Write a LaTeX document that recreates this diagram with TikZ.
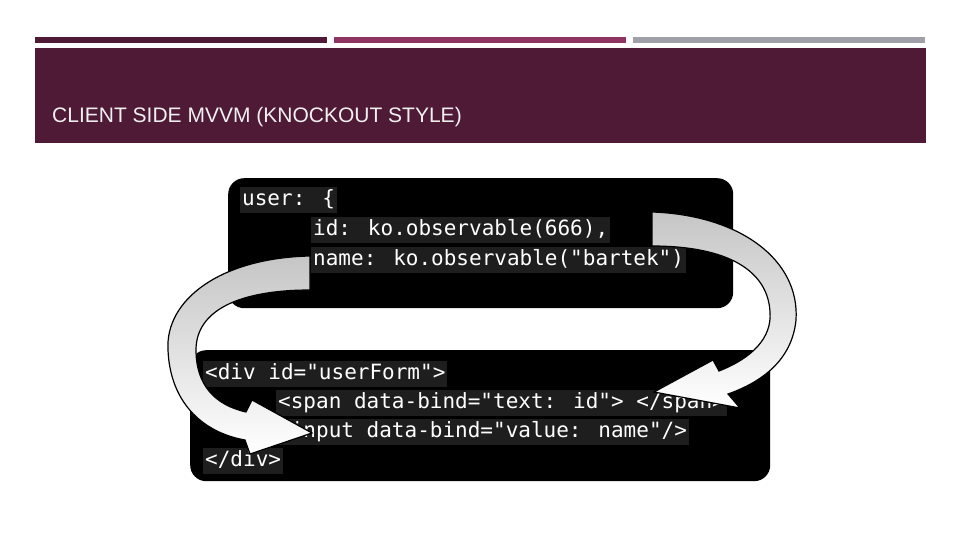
\documentclass[tikz,border=0pt]{standalone}
\usepackage{fontspec}
\setmainfont{Liberation Sans}
\newfontfamily\codefont{DejaVu Sans Mono}
\begin{document}
\begin{tikzpicture}[x=1pt,y=-1pt,
  code/.style={anchor=west,fill=codebg,text=white,font=\codefont\fontsize{21}{24}\selectfont,inner sep=2pt,text height=16pt,text depth=6pt},
  box/.style={fill=black,rounded corners=16pt},
  barrow/.style={draw=black,line width=1.2pt,top color=gray!45,bottom color=white,line join=miter}]
\definecolor{codebg}{HTML}{1E1E1E}
\definecolor{hdr}{HTML}{4F1A36}
\definecolor{barA}{HTML}{4E1A35}
\definecolor{barB}{HTML}{8E3563}
\definecolor{barC}{HTML}{A0A0A8}
\useasboundingbox (0,0) rectangle (960,540);
\fill[white] (0,0) rectangle (960,540);
\fill[barA] (35,37) rectangle (327,43);
\fill[barB] (334,37) rectangle (626,43);
\fill[barC] (633,37) rectangle (925,43);
\fill[hdr] (35,48) rectangle (926,143);
\node[anchor=west,text=white!94!black,font=\fontsize{21}{24}\selectfont,inner sep=0pt] (title) at (52,117) {CLIENT SIDE MVVM (KNOCKOUT STYLE)};
\node[box,minimum width=505pt,minimum height=130pt,anchor=north west] (model) at (228,178) {};
\node[box,minimum width=580pt,minimum height=131pt,anchor=north west] (view) at (190,350) {};
\node[code] (l1) at (240,200) {user: \{};
\node[code] (l2) at (311,230) {id: ko.observable(666),};
\node[code] (l3) at (311,260) {name: ko.observable("bartek")};
\node[code] (v1) at (203,374) {<div id="userForm">};
\node[code] (v2) at (276,403) {<span data-bind="text: id"> </span>};
\node[code] (v3) at (276,432) {<input data-bind="value: name"/>};
\node[code] (v4) at (203,461) {</div>};
\draw[barrow] (310,256) .. controls (220,258) and (165,300) .. (168,350)
  .. controls (170,400) and (200,432) .. (245,440) -- (250,454) -- (312,433)
  -- (252,400) -- (246,412) .. controls (215,405) and (196,385) .. (196,350)
  .. controls (196,310) and (240,290) .. (310,290) -- cycle;
\draw[barrow] (652,212) .. controls (740,215) and (800,260) .. (796,320)
  .. controls (792,360) and (762,382) .. (728,394) -- (740,408) -- (654,392)
  -- (713,360) -- (719,371) .. controls (752,358) and (772,338) .. (770,312)
  .. controls (768,272) and (730,246) .. (652,246) -- cycle;
\end{tikzpicture}
\end{document}
